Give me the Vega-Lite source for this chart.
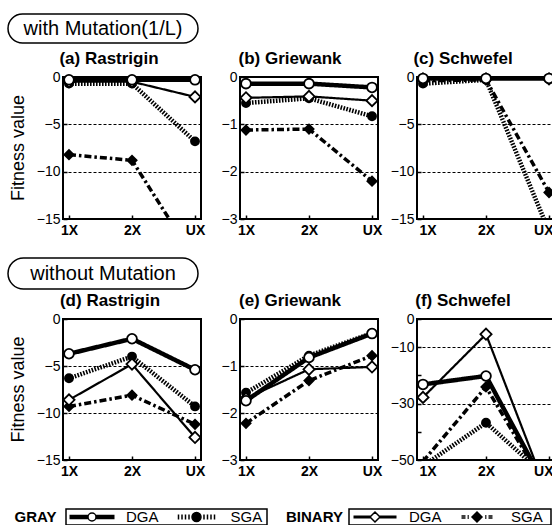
{
  "$schema": "https://vega.github.io/schema/vega-lite/v6.json",
  "padding": {"left": 7, "top": 13, "right": 0, "bottom": 0},
  "background": "white",
  "datasets": {
    "fit": [
      {"panel": "a", "series": "BINARY SGA", "op": "1X", "value": -8.2},
      {"panel": "a", "series": "BINARY SGA", "op": "2X", "value": -8.8},
      {"panel": "a", "series": "BINARY SGA", "op": "UX", "value": -19.3},
      {"panel": "a", "series": "GRAY SGA", "op": "1X", "value": -0.7},
      {"panel": "a", "series": "GRAY SGA", "op": "2X", "value": -0.7},
      {"panel": "a", "series": "GRAY SGA", "op": "UX", "value": -6.8},
      {"panel": "a", "series": "BINARY DGA", "op": "1X", "value": -0.5},
      {"panel": "a", "series": "BINARY DGA", "op": "2X", "value": -0.5},
      {"panel": "a", "series": "BINARY DGA", "op": "UX", "value": -2.1},
      {"panel": "a", "series": "GRAY DGA", "op": "1X", "value": -0.3},
      {"panel": "a", "series": "GRAY DGA", "op": "2X", "value": -0.3},
      {"panel": "a", "series": "GRAY DGA", "op": "UX", "value": -0.3},

      {"panel": "b", "series": "BINARY SGA", "op": "1X", "value": -1.12},
      {"panel": "b", "series": "BINARY SGA", "op": "2X", "value": -1.1},
      {"panel": "b", "series": "BINARY SGA", "op": "UX", "value": -2.2},
      {"panel": "b", "series": "GRAY SGA", "op": "1X", "value": -0.55},
      {"panel": "b", "series": "GRAY SGA", "op": "2X", "value": -0.45},
      {"panel": "b", "series": "GRAY SGA", "op": "UX", "value": -0.83},
      {"panel": "b", "series": "BINARY DGA", "op": "1X", "value": -0.44},
      {"panel": "b", "series": "BINARY DGA", "op": "2X", "value": -0.41},
      {"panel": "b", "series": "BINARY DGA", "op": "UX", "value": -0.5},
      {"panel": "b", "series": "GRAY DGA", "op": "1X", "value": -0.14},
      {"panel": "b", "series": "GRAY DGA", "op": "2X", "value": -0.14},
      {"panel": "b", "series": "GRAY DGA", "op": "UX", "value": -0.22},

      {"panel": "c", "series": "BINARY SGA", "op": "1X", "value": -0.4},
      {"panel": "c", "series": "BINARY SGA", "op": "2X", "value": -0.3},
      {"panel": "c", "series": "BINARY SGA", "op": "UX", "value": -12.2},
      {"panel": "c", "series": "GRAY SGA", "op": "1X", "value": -0.7},
      {"panel": "c", "series": "GRAY SGA", "op": "2X", "value": -0.3},
      {"panel": "c", "series": "GRAY SGA", "op": "UX", "value": -16.3},
      {"panel": "c", "series": "BINARY DGA", "op": "1X", "value": -0.2},
      {"panel": "c", "series": "BINARY DGA", "op": "2X", "value": -0.2},
      {"panel": "c", "series": "BINARY DGA", "op": "UX", "value": -0.2},
      {"panel": "c", "series": "GRAY DGA", "op": "1X", "value": -0.15},
      {"panel": "c", "series": "GRAY DGA", "op": "2X", "value": -0.15},
      {"panel": "c", "series": "GRAY DGA", "op": "UX", "value": -0.15},

      {"panel": "d", "series": "BINARY SGA", "op": "1X", "value": -9.3},
      {"panel": "d", "series": "BINARY SGA", "op": "2X", "value": -8.1},
      {"panel": "d", "series": "BINARY SGA", "op": "UX", "value": -11.2},
      {"panel": "d", "series": "GRAY SGA", "op": "1X", "value": -6.3},
      {"panel": "d", "series": "GRAY SGA", "op": "2X", "value": -4.0},
      {"panel": "d", "series": "GRAY SGA", "op": "UX", "value": -9.3},
      {"panel": "d", "series": "BINARY DGA", "op": "1X", "value": -8.6},
      {"panel": "d", "series": "BINARY DGA", "op": "2X", "value": -4.8},
      {"panel": "d", "series": "BINARY DGA", "op": "UX", "value": -12.6},
      {"panel": "d", "series": "GRAY DGA", "op": "1X", "value": -3.7},
      {"panel": "d", "series": "GRAY DGA", "op": "2X", "value": -2.1},
      {"panel": "d", "series": "GRAY DGA", "op": "UX", "value": -5.4},

      {"panel": "e", "series": "BINARY SGA", "op": "1X", "value": -2.22},
      {"panel": "e", "series": "BINARY SGA", "op": "2X", "value": -1.31},
      {"panel": "e", "series": "BINARY SGA", "op": "UX", "value": -0.78},
      {"panel": "e", "series": "GRAY SGA", "op": "1X", "value": -1.57},
      {"panel": "e", "series": "GRAY SGA", "op": "2X", "value": -0.78},
      {"panel": "e", "series": "GRAY SGA", "op": "UX", "value": -0.3},
      {"panel": "e", "series": "BINARY DGA", "op": "1X", "value": -1.69},
      {"panel": "e", "series": "BINARY DGA", "op": "2X", "value": -1.07},
      {"panel": "e", "series": "BINARY DGA", "op": "UX", "value": -1.02},
      {"panel": "e", "series": "GRAY DGA", "op": "1X", "value": -1.74},
      {"panel": "e", "series": "GRAY DGA", "op": "2X", "value": -0.82},
      {"panel": "e", "series": "GRAY DGA", "op": "UX", "value": -0.31},

      {"panel": "f", "series": "BINARY SGA", "op": "1X", "value": -50.5},
      {"panel": "f", "series": "BINARY SGA", "op": "2X", "value": -24.1},
      {"panel": "f", "series": "BINARY SGA", "op": "UX", "value": -61.6},
      {"panel": "f", "series": "GRAY SGA", "op": "1X", "value": -52.1},
      {"panel": "f", "series": "GRAY SGA", "op": "2X", "value": -36.8},
      {"panel": "f", "series": "GRAY SGA", "op": "UX", "value": -56.8},
      {"panel": "f", "series": "BINARY DGA", "op": "1X", "value": -27.8},
      {"panel": "f", "series": "BINARY DGA", "op": "2X", "value": -5.4},
      {"panel": "f", "series": "BINARY DGA", "op": "UX", "value": -63.3},
      {"panel": "f", "series": "GRAY DGA", "op": "1X", "value": -23.2},
      {"panel": "f", "series": "GRAY DGA", "op": "2X", "value": -20.2},
      {"panel": "f", "series": "GRAY DGA", "op": "UX", "value": -61.6}
    ]
  },
  "resolve": {
    "scale": {"shape": "independent", "fill": "independent"},
    "legend": {"shape": "independent", "fill": "independent"}
  },
  "columns": 1,
  "spacing": 29,
  "concat": [
    {
      "columns": 1,
      "spacing": 19,
      "concat": [
        {
          "columns": 1,
          "spacing": 4,
          "concat": [
            {
              "width": 190, "height": 29,
              "view": {"stroke": "black", "strokeWidth": 1.5, "cornerRadius": 14.5},
              "data": {"values": [{"label": "with Mutation(1/L)"}]},
              "mark": {"type": "text", "fontSize": 20, "font": "Liberation Sans", "color": "black", "align": "center", "baseline": "middle"},
              "encoding": {"text": {"field": "label", "type": "nominal"}}
            },
            {
              "spacing": 3,
              "hconcat": [
                {
                  "width": 21, "height": 142,
                  "view": {"stroke": null},
                  "data": {"values": [{"label": "Fitness value"}]},
                  "mark": {"type": "text", "angle": 270, "fontSize": 18, "font": "Liberation Sans", "color": "black", "align": "center", "baseline": "middle"},
                  "encoding": {"text": {"field": "label", "type": "nominal"}}
                },
                {
                  "width": 138, "height": 142,
                  "title": {"text": "(a) Rastrigin", "dx": -23},
                  "data": {"name": "fit"},
                  "transform": [{"filter": "datum.panel == 'a'"}],
                  "encoding": {
                    "x": {"field": "op", "type": "ordinal", "scale": {"type": "point", "domain": ["1X", "2X", "UX"], "padding": 0.095}, "axis": {"title": null}},
                    "y": {"field": "value", "type": "quantitative", "scale": {"domain": [-15, 0], "nice": false, "zero": false},
                      "axis": {"title": null, "values": [0, -5, -10, -15], "gridOpacity": {"condition": {"test": "datum.value < 0 && datum.value > -15", "value": 1}, "value": 0}}}
                  },
                  "layer": [
                    {
                      "mark": {"type": "line", "clip": true, "color": "black", "strokeCap": "butt"},
                      "encoding": {
                        "strokeDash": {"field": "series", "type": "nominal", "scale": {"domain": ["GRAY DGA", "GRAY SGA", "BINARY DGA", "BINARY SGA"], "range": [[1, 0], [1.6, 1.4], [1, 0], [7, 3, 2.5, 3]]}, "legend": null},
                        "strokeWidth": {"field": "series", "type": "nominal", "scale": {"type": "ordinal", "domain": ["GRAY DGA", "GRAY SGA", "BINARY DGA", "BINARY SGA"], "range": [4.5, 4.5, 2.2, 3.5]}, "legend": null}
                      }
                    },
                    {
                      "transform": [{"filter": "datum.value >= -15"}],
                      "mark": {"type": "point", "filled": true, "stroke": "black", "strokeWidth": 1.8, "opacity": 1},
                      "encoding": {
                        "shape": {"field": "series", "type": "nominal", "scale": {"domain": ["GRAY DGA", "GRAY SGA", "BINARY DGA", "BINARY SGA"], "range": ["circle", "circle", "diamond", "diamond"]}, "legend": null},
                        "fill": {"field": "series", "type": "nominal", "scale": {"domain": ["GRAY DGA", "GRAY SGA", "BINARY DGA", "BINARY SGA"], "range": ["white", "black", "white", "black"]}, "legend": null},
                        "size": {"field": "series", "type": "nominal", "scale": {"type": "ordinal", "domain": ["GRAY DGA", "GRAY SGA", "BINARY DGA", "BINARY SGA"], "range": [95, 65, 125, 85]}, "legend": null}
                      }
                    }
                  ]
                },
                {
                  "width": 138, "height": 142,
                  "title": {"text": "(b) Griewank", "dx": -19},
                  "data": {"name": "fit"},
                  "transform": [{"filter": "datum.panel == 'b'"}],
                  "encoding": {
                    "x": {"field": "op", "type": "ordinal", "scale": {"type": "point", "domain": ["1X", "2X", "UX"], "padding": 0.095}, "axis": {"title": null}},
                    "y": {"field": "value", "type": "quantitative", "scale": {"domain": [-3, 0], "nice": false, "zero": false},
                      "axis": {"title": null, "values": [0, -1, -2, -3], "gridOpacity": {"condition": {"test": "datum.value < 0 && datum.value > -3", "value": 1}, "value": 0}}}
                  },
                  "layer": [
                    {
                      "mark": {"type": "line", "clip": true, "color": "black", "strokeCap": "butt"},
                      "encoding": {
                        "strokeDash": {"field": "series", "type": "nominal", "scale": {"domain": ["GRAY DGA", "GRAY SGA", "BINARY DGA", "BINARY SGA"], "range": [[1, 0], [1.6, 1.4], [1, 0], [7, 3, 2.5, 3]]}, "legend": null},
                        "strokeWidth": {"field": "series", "type": "nominal", "scale": {"type": "ordinal", "domain": ["GRAY DGA", "GRAY SGA", "BINARY DGA", "BINARY SGA"], "range": [4.5, 4.5, 2.2, 3.5]}, "legend": null}
                      }
                    },
                    {
                      "transform": [{"filter": "datum.value >= -3"}],
                      "mark": {"type": "point", "filled": true, "stroke": "black", "strokeWidth": 1.8, "opacity": 1},
                      "encoding": {
                        "shape": {"field": "series", "type": "nominal", "scale": {"domain": ["GRAY DGA", "GRAY SGA", "BINARY DGA", "BINARY SGA"], "range": ["circle", "circle", "diamond", "diamond"]}, "legend": null},
                        "fill": {"field": "series", "type": "nominal", "scale": {"domain": ["GRAY DGA", "GRAY SGA", "BINARY DGA", "BINARY SGA"], "range": ["white", "black", "white", "black"]}, "legend": null},
                        "size": {"field": "series", "type": "nominal", "scale": {"type": "ordinal", "domain": ["GRAY DGA", "GRAY SGA", "BINARY DGA", "BINARY SGA"], "range": [95, 65, 125, 85]}, "legend": null}
                      }
                    }
                  ]
                },
                {
                  "width": 138, "height": 142,
                  "title": {"text": "(c) Schwefel", "dx": -23},
                  "data": {"name": "fit"},
                  "transform": [{"filter": "datum.panel == 'c'"}],
                  "encoding": {
                    "x": {"field": "op", "type": "ordinal", "scale": {"type": "point", "domain": ["1X", "2X", "UX"], "padding": 0.095}, "axis": {"title": null, "labelFlush": 10, "labelFlushOffset": 4}},
                    "y": {"field": "value", "type": "quantitative", "scale": {"domain": [-15, 0], "nice": false, "zero": false},
                      "axis": {"title": null, "values": [0, -5, -10, -15], "gridOpacity": {"condition": {"test": "datum.value < 0 && datum.value > -15", "value": 1}, "value": 0}}}
                  },
                  "layer": [
                    {
                      "mark": {"type": "line", "clip": true, "color": "black", "strokeCap": "butt"},
                      "encoding": {
                        "strokeDash": {"field": "series", "type": "nominal", "scale": {"domain": ["GRAY DGA", "GRAY SGA", "BINARY DGA", "BINARY SGA"], "range": [[1, 0], [1.6, 1.4], [1, 0], [7, 3, 2.5, 3]]}, "legend": null},
                        "strokeWidth": {"field": "series", "type": "nominal", "scale": {"type": "ordinal", "domain": ["GRAY DGA", "GRAY SGA", "BINARY DGA", "BINARY SGA"], "range": [4.5, 4.5, 2.2, 3.5]}, "legend": null}
                      }
                    },
                    {
                      "transform": [{"filter": "datum.value >= -15"}],
                      "mark": {"type": "point", "filled": true, "stroke": "black", "strokeWidth": 1.8, "opacity": 1},
                      "encoding": {
                        "shape": {"field": "series", "type": "nominal", "scale": {"domain": ["GRAY DGA", "GRAY SGA", "BINARY DGA", "BINARY SGA"], "range": ["circle", "circle", "diamond", "diamond"]}, "legend": null},
                        "fill": {"field": "series", "type": "nominal", "scale": {"domain": ["GRAY DGA", "GRAY SGA", "BINARY DGA", "BINARY SGA"], "range": ["white", "black", "white", "black"]}, "legend": null},
                        "size": {"field": "series", "type": "nominal", "scale": {"type": "ordinal", "domain": ["GRAY DGA", "GRAY SGA", "BINARY DGA", "BINARY SGA"], "range": [95, 65, 125, 85]}, "legend": null}
                      }
                    }
                  ]
                }
              ]
            }
          ]
        },
        {
          "columns": 1,
          "spacing": 1,
          "concat": [
            {
              "width": 190, "height": 31,
              "view": {"stroke": "black", "strokeWidth": 1.5, "cornerRadius": 15.5},
              "data": {"values": [{"label": "without Mutation"}]},
              "mark": {"type": "text", "fontSize": 20, "font": "Liberation Sans", "color": "black", "align": "center", "baseline": "middle"},
              "encoding": {"text": {"field": "label", "type": "nominal"}}
            },
            {
              "spacing": 3,
              "hconcat": [
                {
                  "width": 21, "height": 141,
                  "view": {"stroke": null},
                  "data": {"values": [{"label": "Fitness value"}]},
                  "mark": {"type": "text", "angle": 270, "fontSize": 18, "font": "Liberation Sans", "color": "black", "align": "center", "baseline": "middle"},
                  "encoding": {"text": {"field": "label", "type": "nominal"}}
                },
                {
                  "width": 138, "height": 141,
                  "title": {"text": "(d) Rastrigin", "dx": -22},
                  "data": {"name": "fit"},
                  "transform": [{"filter": "datum.panel == 'd'"}],
                  "encoding": {
                    "x": {"field": "op", "type": "ordinal", "scale": {"type": "point", "domain": ["1X", "2X", "UX"], "padding": 0.095}, "axis": {"title": null}},
                    "y": {"field": "value", "type": "quantitative", "scale": {"domain": [-15, 0], "nice": false, "zero": false},
                      "axis": {"title": null, "values": [0, -5, -10, -15], "gridOpacity": {"condition": {"test": "datum.value < 0 && datum.value > -15", "value": 1}, "value": 0}}}
                  },
                  "layer": [
                    {
                      "mark": {"type": "line", "clip": true, "color": "black", "strokeCap": "butt"},
                      "encoding": {
                        "strokeDash": {"field": "series", "type": "nominal", "scale": {"domain": ["GRAY DGA", "GRAY SGA", "BINARY DGA", "BINARY SGA"], "range": [[1, 0], [1.6, 1.4], [1, 0], [7, 3, 2.5, 3]]}, "legend": null},
                        "strokeWidth": {"field": "series", "type": "nominal", "scale": {"type": "ordinal", "domain": ["GRAY DGA", "GRAY SGA", "BINARY DGA", "BINARY SGA"], "range": [4.5, 4.5, 2.2, 3.5]}, "legend": null}
                      }
                    },
                    {
                      "transform": [{"filter": "datum.value >= -15"}],
                      "mark": {"type": "point", "filled": true, "stroke": "black", "strokeWidth": 1.8, "opacity": 1},
                      "encoding": {
                        "shape": {"field": "series", "type": "nominal", "scale": {"domain": ["GRAY DGA", "GRAY SGA", "BINARY DGA", "BINARY SGA"], "range": ["circle", "circle", "diamond", "diamond"]}, "legend": null},
                        "fill": {"field": "series", "type": "nominal", "scale": {"domain": ["GRAY DGA", "GRAY SGA", "BINARY DGA", "BINARY SGA"], "range": ["white", "black", "white", "black"]}, "legend": null},
                        "size": {"field": "series", "type": "nominal", "scale": {"type": "ordinal", "domain": ["GRAY DGA", "GRAY SGA", "BINARY DGA", "BINARY SGA"], "range": [95, 65, 125, 85]}, "legend": null}
                      }
                    }
                  ]
                },
                {
                  "width": 138, "height": 141,
                  "title": {"text": "(e) Griewank", "dx": -19},
                  "data": {"name": "fit"},
                  "transform": [{"filter": "datum.panel == 'e'"}],
                  "encoding": {
                    "x": {"field": "op", "type": "ordinal", "scale": {"type": "point", "domain": ["1X", "2X", "UX"], "padding": 0.095}, "axis": {"title": null}},
                    "y": {"field": "value", "type": "quantitative", "scale": {"domain": [-3, 0], "nice": false, "zero": false},
                      "axis": {"title": null, "values": [0, -1, -2, -3], "gridOpacity": {"condition": {"test": "datum.value < 0 && datum.value > -3", "value": 1}, "value": 0}}}
                  },
                  "layer": [
                    {
                      "mark": {"type": "line", "clip": true, "color": "black", "strokeCap": "butt"},
                      "encoding": {
                        "strokeDash": {"field": "series", "type": "nominal", "scale": {"domain": ["GRAY DGA", "GRAY SGA", "BINARY DGA", "BINARY SGA"], "range": [[1, 0], [1.6, 1.4], [1, 0], [7, 3, 2.5, 3]]}, "legend": null},
                        "strokeWidth": {"field": "series", "type": "nominal", "scale": {"type": "ordinal", "domain": ["GRAY DGA", "GRAY SGA", "BINARY DGA", "BINARY SGA"], "range": [4.5, 4.5, 2.2, 3.5]}, "legend": null}
                      }
                    },
                    {
                      "transform": [{"filter": "datum.value >= -3"}],
                      "mark": {"type": "point", "filled": true, "stroke": "black", "strokeWidth": 1.8, "opacity": 1},
                      "encoding": {
                        "shape": {"field": "series", "type": "nominal", "scale": {"domain": ["GRAY DGA", "GRAY SGA", "BINARY DGA", "BINARY SGA"], "range": ["circle", "circle", "diamond", "diamond"]}, "legend": null},
                        "fill": {"field": "series", "type": "nominal", "scale": {"domain": ["GRAY DGA", "GRAY SGA", "BINARY DGA", "BINARY SGA"], "range": ["white", "black", "white", "black"]}, "legend": null},
                        "size": {"field": "series", "type": "nominal", "scale": {"type": "ordinal", "domain": ["GRAY DGA", "GRAY SGA", "BINARY DGA", "BINARY SGA"], "range": [95, 65, 125, 85]}, "legend": null}
                      }
                    }
                  ]
                },
                {
                  "width": 138, "height": 141,
                  "title": {"text": "(f) Schwefel", "dx": -23},
                  "data": {"name": "fit"},
                  "transform": [{"filter": "datum.panel == 'f'"}],
                  "encoding": {
                    "x": {"field": "op", "type": "ordinal", "scale": {"type": "point", "domain": ["1X", "2X", "UX"], "padding": 0.095}, "axis": {"title": null, "labelFlush": 10, "labelFlushOffset": 4}},
                    "y": {"field": "value", "type": "quantitative", "scale": {"domain": [-50, 0], "nice": false, "zero": false},
                      "axis": {"title": null, "values": [0, -10, -20, -30, -40, -50], "labelExpr": "datum.value == -20 || datum.value == -40 ? '' : datum.label",
                        "gridOpacity": {"condition": {"test": "datum.value == -10 || datum.value == -30", "value": 1}, "value": 0}}}
                  },
                  "layer": [
                    {
                      "mark": {"type": "line", "clip": true, "color": "black", "strokeCap": "butt"},
                      "encoding": {
                        "strokeDash": {"field": "series", "type": "nominal", "scale": {"domain": ["GRAY DGA", "GRAY SGA", "BINARY DGA", "BINARY SGA"], "range": [[1, 0], [1.6, 1.4], [1, 0], [7, 3, 2.5, 3]]}, "legend": null},
                        "strokeWidth": {"field": "series", "type": "nominal", "scale": {"type": "ordinal", "domain": ["GRAY DGA", "GRAY SGA", "BINARY DGA", "BINARY SGA"], "range": [4.5, 4.5, 2.2, 3.5]}, "legend": null}
                      }
                    },
                    {
                      "transform": [{"filter": "datum.value >= -50"}],
                      "mark": {"type": "point", "filled": true, "stroke": "black", "strokeWidth": 1.8, "opacity": 1},
                      "encoding": {
                        "shape": {"field": "series", "type": "nominal", "scale": {"domain": ["GRAY DGA", "GRAY SGA", "BINARY DGA", "BINARY SGA"], "range": ["circle", "circle", "diamond", "diamond"]}, "legend": null},
                        "fill": {"field": "series", "type": "nominal", "scale": {"domain": ["GRAY DGA", "GRAY SGA", "BINARY DGA", "BINARY SGA"], "range": ["white", "black", "white", "black"]}, "legend": null},
                        "size": {"field": "series", "type": "nominal", "scale": {"type": "ordinal", "domain": ["GRAY DGA", "GRAY SGA", "BINARY DGA", "BINARY SGA"], "range": [95, 65, 125, 85]}, "legend": null}
                      }
                    }
                  ]
                }
              ]
            }
          ]
        }
      ]
    },
    {
      "spacing": 15,
      "resolve": {
        "scale": {"shape": "independent", "fill": "independent"},
        "legend": {"shape": "independent", "fill": "independent"}
      },
      "hconcat": [
        {
          "spacing": 2,
          "hconcat": [
            {
              "width": 55, "height": 16,
              "view": {"stroke": null},
              "data": {"values": [{"label": "GRAY"}]},
              "mark": {"type": "text", "fontSize": 15, "fontWeight": "bold", "font": "Liberation Sans", "color": "black", "align": "center", "baseline": "middle"},
              "encoding": {"text": {"field": "label", "type": "nominal"}}
            },
            {
              "width": 201, "height": 16,
              "view": {"stroke": "black", "strokeWidth": 1.5},
              "data": {"values": [{"s": "DGA"}, {"s": "SGA"}]},
              "mark": {"type": "point", "filled": false, "color": "black", "stroke": "black", "opacity": 0, "strokeWidth": 1.5},
              "encoding": {
                "shape": {"field": "s", "type": "nominal",
                  "scale": {"domain": ["DGA", "SGA"], "range": [
                    "M-1,0H-0.178M0.178,0H1M-1,-0.071H-0.165M0.165,-0.071H1M-1,0.071H-0.165M0.165,0.071H1M0.178,0A0.178,0.178,0,1,1,-0.178,0A0.178,0.178,0,1,1,0.178,0Z",
                    "M-0.8,-0.111V0.111M-0.644,-0.111V0.111M-0.489,-0.111V0.111M-0.333,-0.111V0.111M0.333,-0.111V0.111M0.489,-0.111V0.111M0.644,-0.111V0.111M0.8,-0.111V0.111M0.2,0A0.2,0.2,0,1,1,-0.2,0A0.2,0.2,0,1,1,0.2,0Z"
                  ]},
                  "legend": {"title": null, "orient": "none", "legendX": 60.5, "legendY": 0, "direction": "horizontal", "columns": 2, "padding": 0, "symbolSize": 2025, "clipHeight": 16, "labelOffset": 10.5, "columnPadding": 13.5, "symbolOpacity": 1, "symbolStrokeColor": "black", "symbolStrokeWidth": 1.5, "labelFontSize": 15, "labelFont": "Liberation Sans", "labelColor": "black", "labelBaseline": "middle",
                    "encode": {"symbols": {"update": {"stroke": {"value": "black"}, "strokeWidth": {"value": 1.5}, "opacity": {"value": 1}}}}}},
                "fill": {"field": "s", "type": "nominal", "scale": {"domain": ["DGA", "SGA"], "range": ["white", "black"]},
                  "legend": {"title": null, "orient": "none", "legendX": 60.5, "legendY": 0, "direction": "horizontal", "columns": 2, "padding": 0, "symbolSize": 2025, "clipHeight": 16, "labelOffset": 10.5, "columnPadding": 13.5, "symbolOpacity": 1, "symbolStrokeColor": "black", "symbolStrokeWidth": 1.5, "labelFontSize": 15, "labelFont": "Liberation Sans", "labelColor": "black", "labelBaseline": "middle",
                    "encode": {"symbols": {"update": {"stroke": {"value": "black"}, "strokeWidth": {"value": 1.5}, "opacity": {"value": 1}}}}}}
              }
            }
          ]
        },
        {
          "spacing": 2,
          "hconcat": [
            {
              "width": 63, "height": 16,
              "view": {"stroke": null},
              "data": {"values": [{"label": "BINARY"}]},
              "mark": {"type": "text", "fontSize": 15, "fontWeight": "bold", "font": "Liberation Sans", "color": "black", "align": "center", "baseline": "middle"},
              "encoding": {"text": {"field": "label", "type": "nominal"}}
            },
            {
              "width": 202, "height": 16,
              "view": {"stroke": "black", "strokeWidth": 1.5},
              "data": {"values": [{"s": "DGA"}, {"s": "SGA"}]},
              "mark": {"type": "point", "filled": false, "color": "black", "stroke": "black", "opacity": 0, "strokeWidth": 1.5},
              "encoding": {
                "shape": {"field": "s", "type": "nominal",
                  "scale": {"domain": ["DGA", "SGA"], "range": [
                    "M-0.956,-0.036H-0.186M0.186,-0.036H0.956M-0.956,0.036H-0.186M0.186,0.036H0.956M0.222,0L0,-0.222L-0.222,0L0,0.222Z",
                    "M-0.689,-0.044H-0.511M-0.689,0.044H-0.511M-0.422,-0.044H-0.356M-0.422,0.044H-0.356M0.356,-0.044H0.422M0.356,0.044H0.422M0.511,-0.044H0.689M0.511,0.044H0.689M0.222,0L0,-0.222L-0.222,0L0,0.222Z"
                  ]},
                  "legend": {"title": null, "orient": "none", "legendX": 68.5, "legendY": 0, "direction": "horizontal", "columns": 2, "padding": 0, "symbolSize": 2025, "clipHeight": 16, "labelOffset": 10.5, "columnPadding": 11, "symbolOpacity": 1, "symbolStrokeColor": "black", "symbolStrokeWidth": 1.5, "labelFontSize": 15, "labelFont": "Liberation Sans", "labelColor": "black", "labelBaseline": "middle",
                    "encode": {"symbols": {"update": {"stroke": {"value": "black"}, "strokeWidth": {"value": 1.5}, "opacity": {"value": 1}}}}}},
                "fill": {"field": "s", "type": "nominal", "scale": {"domain": ["DGA", "SGA"], "range": ["white", "black"]},
                  "legend": {"title": null, "orient": "none", "legendX": 68.5, "legendY": 0, "direction": "horizontal", "columns": 2, "padding": 0, "symbolSize": 2025, "clipHeight": 16, "labelOffset": 10.5, "columnPadding": 11, "symbolOpacity": 1, "symbolStrokeColor": "black", "symbolStrokeWidth": 1.5, "labelFontSize": 15, "labelFont": "Liberation Sans", "labelColor": "black", "labelBaseline": "middle",
                    "encode": {"symbols": {"update": {"stroke": {"value": "black"}, "strokeWidth": {"value": 1.5}, "opacity": {"value": 1}}}}}}
              }
            }
          ]
        }
      ]
    }
  ],
  "config": {
    "font": "Liberation Sans",
    "view": {"stroke": "black", "strokeWidth": 2},
    "axis": {"domain": false, "tickColor": "black", "tickWidth": 1.5, "tickSize": -4, "labelColor": "black", "titleColor": "black", "labelFont": "Liberation Sans", "titleFont": "Liberation Sans", "titleFontWeight": "normal"},
    "axisX": {"labelFontSize": 14, "labelFontWeight": "bold", "labelPadding": 8, "labelAngle": 0, "grid": false},
    "axisY": {"labelFontSize": 14, "labelPadding": 7, "grid": true, "gridColor": "black", "gridDash": [3, 2], "gridWidth": 1, "minExtent": 30, "maxExtent": 30},
    "title": {"font": "Liberation Sans", "fontSize": 17, "fontWeight": "bold", "color": "black", "baseline": "alphabetic", "offset": 2, "anchor": "middle", "frame": "group"}
  }
}
